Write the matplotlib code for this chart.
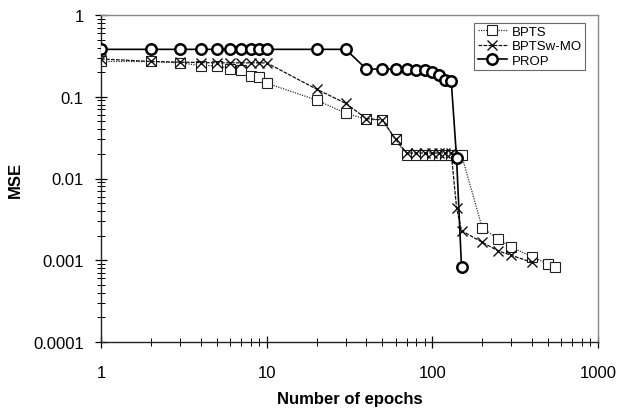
import matplotlib
matplotlib.use("Agg")
import matplotlib.pyplot as plt
from matplotlib.ticker import LogLocator, NullFormatter, FixedLocator, FixedFormatter

plt.rcParams['font.family'] = ['Liberation Sans', 'DejaVu Sans']

bpts_x = [1, 2, 3, 4, 5, 6, 7, 8, 9, 10, 20, 30, 40, 50, 60, 70, 80, 90, 100,
          110, 120, 130, 140, 150, 200, 250, 300, 400, 500, 550]
bpts_y = [0.27, 0.27, 0.26, 0.24, 0.24, 0.22, 0.21, 0.178, 0.175, 0.147, 0.091,
          0.063, 0.053, 0.052, 0.030, 0.0195, 0.0195, 0.0195, 0.0195, 0.0195,
          0.0195, 0.0195, 0.0195, 0.0195, 0.0025, 0.0018, 0.00145, 0.0011,
          0.0009, 0.00082]

mo_x = [1, 2, 3, 4, 5, 6, 7, 8, 9, 10, 20, 30, 40, 50, 60, 70, 80, 90, 100,
        110, 120, 130, 140, 150, 200, 250, 300, 400]
mo_y = [0.29, 0.27, 0.265, 0.262, 0.26, 0.26, 0.26, 0.26, 0.26, 0.26, 0.124,
        0.083, 0.054, 0.052, 0.030, 0.0205, 0.0205, 0.0205, 0.0205, 0.0205,
        0.0205, 0.0205, 0.0044, 0.0023, 0.00166, 0.0013, 0.00115, 0.00094]

prop_x = [1, 2, 3, 4, 5, 6, 7, 8, 9, 10, 20, 30, 40, 50, 60, 70, 80, 90, 100,
          110, 120, 130, 140, 150]
prop_y = [0.38, 0.38, 0.38, 0.38, 0.38, 0.38, 0.38, 0.38, 0.38, 0.38, 0.38,
          0.38, 0.218, 0.218, 0.218, 0.218, 0.215, 0.21, 0.2, 0.185, 0.16,
          0.158, 0.018, 0.00083]

x_ticks = [1, 10, 100, 1000]
x_labels = ['1', '10', '100', '1000']
y_ticks = [0.0001, 0.001, 0.01, 0.1, 1]
y_labels = ['0.0001', '0.001', '0.01', '0.1', '1']

fig = plt.figure(figsize=(6.19, 4.10), dpi=100)
ax = fig.add_axes([101 / 619, 1 - 343 / 410, (598 - 101) / 619, (343 - 16) / 410])

ax.plot(bpts_x, bpts_y, linestyle=(0, (1, 1)), color='#333333', lw=0.9,
        marker='s', markersize=7, markerfacecolor='white',
        markeredgecolor='#222222', markeredgewidth=0.8, label='BPTS', zorder=2)
ax.plot(mo_x, mo_y, linestyle=(0, (3, 1)), color='#111111', lw=0.9,
        marker='x', markersize=7, markeredgecolor='#111111',
        markeredgewidth=1.0, label='BPTSw-MO', zorder=3)
ax.plot(prop_x, prop_y, linestyle='-', color='black', lw=1.2,
        marker='o', markersize=7.5, markerfacecolor='white',
        markeredgecolor='black', markeredgewidth=1.8, label='PROP', zorder=4)

ax.set_xscale('log')
ax.set_yscale('log')
ax.set_xlim(1, 1000)
ax.set_ylim(0.0001, 1)

ax.xaxis.set_major_locator(FixedLocator(x_ticks))
ax.xaxis.set_major_formatter(FixedFormatter(x_labels))
ax.yaxis.set_major_locator(FixedLocator(y_ticks))
ax.yaxis.set_major_formatter(FixedFormatter(y_labels))
ax.xaxis.set_minor_locator(LogLocator(base=10, subs=range(2, 10)))
ax.yaxis.set_minor_locator(LogLocator(base=10, subs=range(2, 10)))
ax.xaxis.set_minor_formatter(NullFormatter())
ax.yaxis.set_minor_formatter(NullFormatter())

ax.tick_params(which='major', direction='inout', length=9, width=0.9,
               labelsize=12, colors='black')
ax.tick_params(which='minor', direction='inout', length=6, width=0.7)
ax.tick_params(axis='x', which='major', pad=12)
ax.tick_params(axis='y', which='major', pad=8)

for s in ['left', 'bottom']:
    ax.spines[s].set_color('#222222')
    ax.spines[s].set_linewidth(1.0)
for s in ['top', 'right']:
    ax.spines[s].set_color('#888888')
    ax.spines[s].set_linewidth(1.0)

ax.set_xlabel('Number of epochs', fontsize=12, fontweight='bold', labelpad=8)
ax.set_ylabel('MSE', fontsize=12, fontweight='bold')
ax.yaxis.set_label_coords(-0.158, 0.5)

leg = ax.legend(loc='upper right', bbox_to_anchor=(0.98, 0.985), fontsize=9.5,
                frameon=True, fancybox=False, edgecolor='#444444',
                handlelength=2.2, handletextpad=0.4, labelspacing=0.15,
                borderpad=0.25, borderaxespad=0.2)
leg.get_frame().set_linewidth(0.8)

fig.savefig('out.png', dpi=100)
